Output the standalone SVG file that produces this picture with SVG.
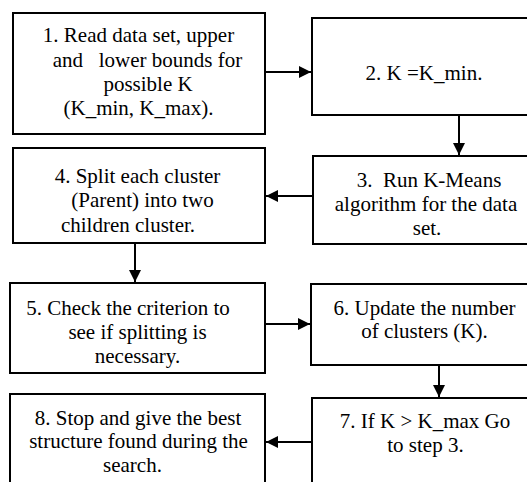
<svg xmlns="http://www.w3.org/2000/svg" width="527" height="482" viewBox="0 0 527 482">
<defs>
<marker id="ah" markerWidth="12" markerHeight="12" refX="12" refY="6" orient="auto" markerUnits="userSpaceOnUse">
<path d="M0,0 L12,6 L0,12 Z" fill="#000"/>
</marker>
</defs>
<rect width="527" height="482" fill="#fff"/>
<g id="n1"><rect fill="#fff" stroke="#000" stroke-width="2" x="13" y="13" width="252" height="121"/>
<text style="font-family:'Liberation Serif'" font-family="Liberation Serif" font-size="21" text-anchor="middle" x="138.5" y="42">1. Read data set, upper</text>
<text style="font-family:'Liberation Serif'" font-family="Liberation Serif" font-size="21" text-anchor="middle" x="147.5" y="67" xml:space="preserve">and   lower bounds for</text>
<text style="font-family:'Liberation Serif'" font-family="Liberation Serif" font-size="21" text-anchor="middle" x="148" y="91">possible K</text>
<text style="font-family:'Liberation Serif'" font-family="Liberation Serif" font-size="21" text-anchor="middle" x="138.5" y="115">(K_min, K_max).</text></g>
<g id="n2"><rect fill="#fff" stroke="#000" stroke-width="2" x="312" y="18" width="230" height="97"/>
<text style="font-family:'Liberation Serif'" font-family="Liberation Serif" font-size="21" text-anchor="middle" x="424" y="80">2. K =K_min.</text></g>
<g id="n3"><rect fill="#fff" stroke="#000" stroke-width="2" x="313" y="156" width="230" height="88"/>
<text style="font-family:'Liberation Serif'" font-family="Liberation Serif" font-size="21" text-anchor="middle" x="429" y="187" xml:space="preserve">3.  Run K-Means</text>
<text style="font-family:'Liberation Serif'" font-family="Liberation Serif" font-size="21" text-anchor="middle" x="426" y="211">algorithm for the data</text>
<text style="font-family:'Liberation Serif'" font-family="Liberation Serif" font-size="21" text-anchor="middle" x="427" y="235">set.</text></g>
<g id="n4"><rect fill="#fff" stroke="#000" stroke-width="2" x="13" y="148" width="252" height="95"/>
<text style="font-family:'Liberation Serif'" font-family="Liberation Serif" font-size="21" text-anchor="middle" x="137.5" y="183">4. Split each cluster</text>
<text style="font-family:'Liberation Serif'" font-family="Liberation Serif" font-size="21" text-anchor="middle" x="142.5" y="207">(Parent) into two</text>
<text style="font-family:'Liberation Serif'" font-family="Liberation Serif" font-size="21" text-anchor="middle" x="128" y="232">children cluster.</text></g>
<g id="n5"><rect fill="#fff" stroke="#000" stroke-width="2" x="10" y="283" width="255" height="90"/>
<text style="font-family:'Liberation Serif'" font-family="Liberation Serif" font-size="21" text-anchor="middle" x="128" y="315">5. Check the criterion to</text>
<text style="font-family:'Liberation Serif'" font-family="Liberation Serif" font-size="21" text-anchor="middle" x="137.5" y="339">see if splitting is</text>
<text style="font-family:'Liberation Serif'" font-family="Liberation Serif" font-size="21" text-anchor="middle" x="137.5" y="363">necessary.</text></g>
<g id="n6"><rect fill="#fff" stroke="#000" stroke-width="2" x="311" y="284" width="231" height="81"/>
<text style="font-family:'Liberation Serif'" font-family="Liberation Serif" font-size="21" text-anchor="middle" x="424.5" y="315">6. Update the number</text>
<text style="font-family:'Liberation Serif'" font-family="Liberation Serif" font-size="21" text-anchor="middle" x="424.5" y="338">of clusters (K).</text></g>
<g id="n7"><rect fill="#fff" stroke="#000" stroke-width="2" x="312" y="398" width="231" height="95"/>
<text style="font-family:'Liberation Serif'" font-family="Liberation Serif" font-size="21" text-anchor="middle" x="425" y="428">7. If K &gt; K_max Go</text>
<text style="font-family:'Liberation Serif'" font-family="Liberation Serif" font-size="21" text-anchor="middle" x="425.5" y="452">to step 3.</text></g>
<g id="n8"><rect fill="#fff" stroke="#000" stroke-width="2" x="10" y="394" width="255" height="99"/>
<text style="font-family:'Liberation Serif'" font-family="Liberation Serif" font-size="21" text-anchor="middle" x="138" y="425">8. Stop and give the best</text>
<text style="font-family:'Liberation Serif'" font-family="Liberation Serif" font-size="21" text-anchor="middle" x="138.5" y="448">structure found during the</text>
<text style="font-family:'Liberation Serif'" font-family="Liberation Serif" font-size="21" text-anchor="middle" x="132.5" y="472">search.</text></g>
<g id="connectors" stroke="#000" stroke-width="2" fill="none" marker-end="url(#ah)">
<line x1="266" y1="72" x2="311" y2="72"/>
<line x1="459" y1="116" x2="459" y2="155"/>
<line x1="312" y1="196" x2="266" y2="196"/>
<line x1="135" y1="244" x2="135" y2="282"/>
<line x1="266" y1="324" x2="310" y2="324"/>
<line x1="439" y1="366" x2="439" y2="397"/>
<line x1="311" y1="442" x2="266" y2="442"/>
</g>
</svg>
